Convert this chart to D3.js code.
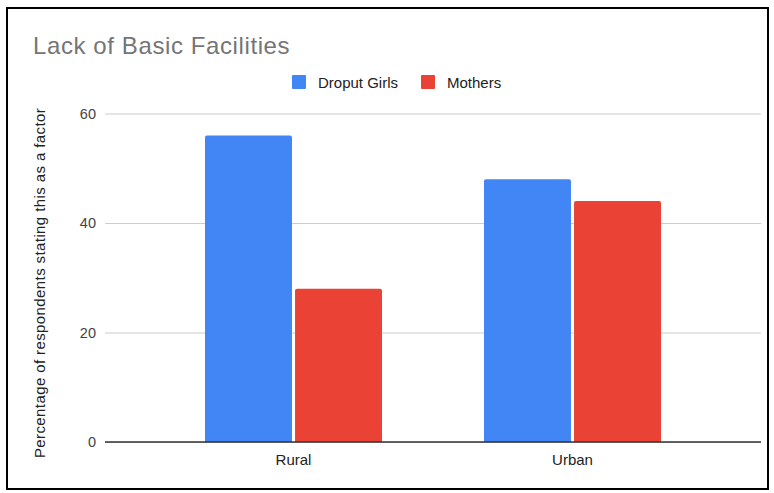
<!DOCTYPE html>
<html>
<head>
<meta charset="utf-8">
<script src="https://cdn.jsdelivr.net/npm/d3@7"></script>
<style>
  body { margin: 0; background: #fff; }
  text { font-family: "Liberation Sans", Arial, sans-serif; }
</style>
</head>
<body>
<div id="chart"></div>
<script>
// Data
var categories = ["Rural", "Urban"];
var seriesNames = ["Droput Girls", "Mothers"];
var droputGirls = [56, 48];
var mothers = [28, 44];
var yTicks = [0, 20, 40, 60];
var colors = ["#4285f4", "#ea4335"];

var svgWidth = 774;
var svgHeight = 493;
var fontFamily = "'Liberation Sans', Arial, sans-serif";

var svg = d3.select("#chart")
  .append("svg")
  .attr("width", svgWidth)
  .attr("height", svgHeight);

// frame round the chart
svg.append("rect")
  .attr("x", 7)
  .attr("y", 8)
  .attr("width", 761)
  .attr("height", 481)
  .attr("fill", "#fff")
  .attr("stroke", "#000")
  .attr("stroke-width", 2);

var plotLeft = 105, plotRight = 761;

var yScale = d3.scaleLinear()
  .domain([0, 60])
  .range([442, 113.5]);

var x0 = d3.scaleBand()
  .domain(categories)
  .range([154, 712]);

var x1 = d3.scaleBand()
  .domain(seriesNames)
  .range([51, 228])
  .paddingInner(0.034);

var color = d3.scaleOrdinal().domain(seriesNames).range(colors);

// Title
svg.append("text")
  .attr("x", 33)
  .attr("y", 54)
  .attr("fill", "#757575")
  .style("font-size", "24px")
  .style("letter-spacing", "0.6px")
  .text("Lack of Basic Facilities");

// Legend
var legendX = [292, 421];
var legend = svg.append("g").selectAll("g")
  .data(seriesNames)
  .enter()
  .append("g")
  .attr("transform", (d, i) => `translate(${legendX[i]}, 75)`);

legend.append("rect")
  .attr("width", 14)
  .attr("height", 14)
  .attr("rx", 1)
  .attr("fill", d => color(d));

legend.append("text")
  .attr("x", 26)
  .attr("y", 12.5)
  .attr("fill", "#222")
  .style("font-size", "15px")
  .text(d => d);

// Grid lines + y tick labels
var yAxis = d3.axisLeft(yScale)
  .tickValues(yTicks)
  .tickSize(-(plotRight - plotLeft))
  .tickPadding(9);

var yAxisG = svg.append("g")
  .attr("transform", `translate(${plotLeft}, 0)`)
  .call(yAxis);

yAxisG.select(".domain").remove();
yAxisG.selectAll(".tick line")
  .attr("stroke", "#cccccc");
yAxisG.selectAll(".tick text")
  .attr("fill", "#444")
  .style("font-size", "14.5px")
  .style("font-family", fontFamily);

// Bars
var rows = categories.map((c, i) => ({ cat: c, values: [droputGirls[i], mothers[i]] }));

var groups = svg.append("g").selectAll("g")
  .data(rows)
  .enter()
  .append("g")
  .attr("transform", d => `translate(${x0(d.cat)}, 0)`);

groups.selectAll("path")
  .data(d => d.values.map((v, i) => ({ name: seriesNames[i], value: v })))
  .enter()
  .append("path")
  .attr("fill", d => color(d.name))
  .attr("d", function(d) {
    var x = x1(d.name), w = x1.bandwidth();
    var top = yScale(d.value), bottom = yScale(0), r = 2;
    return `M${x},${bottom}V${top + r}Q${x},${top} ${x + r},${top}` +
      `H${x + w - r}Q${x + w},${top} ${x + w},${top + r}V${bottom}Z`;
  });

// Baseline
svg.append("line")
  .attr("x1", plotLeft)
  .attr("x2", plotRight)
  .attr("y1", yScale(0))
  .attr("y2", yScale(0))
  .attr("stroke", "#333")
  .attr("stroke-width", 1.5);

// x category labels
var xAxis = d3.axisBottom(x0).tickSize(0).tickPadding(12);
var xAxisG = svg.append("g")
  .attr("transform", `translate(0, ${yScale(0)})`)
  .call(xAxis);
xAxisG.select(".domain").remove();
xAxisG.selectAll(".tick text")
  .attr("fill", "#222")
  .style("font-size", "15px")
  .style("font-family", fontFamily);

// y axis title
svg.append("text")
  .attr("transform", "translate(45, 283) rotate(-90)")
  .attr("text-anchor", "middle")
  .attr("fill", "#222")
  .style("font-size", "15px")
  .style("letter-spacing", "0.4px")
  .text("Percentage of respondents stating this as a factor");
</script>
</body>
</html>
